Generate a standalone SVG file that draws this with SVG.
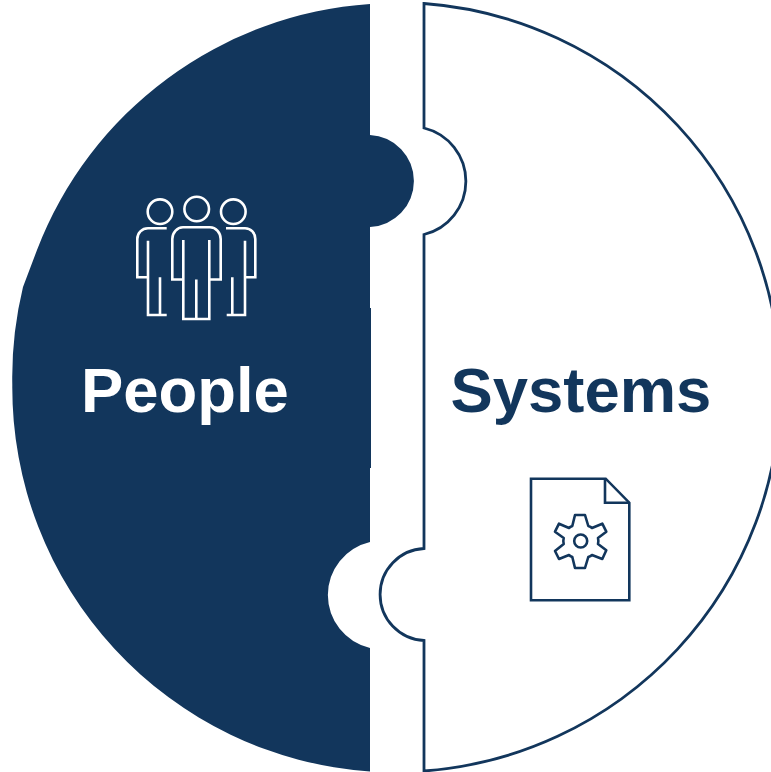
<svg xmlns="http://www.w3.org/2000/svg" width="771" height="772" viewBox="0 0 771 772">
<style>
.lbl{font-family:"Liberation Sans",Arial,sans-serif;font-weight:700;font-size:63.400px}
.ico{fill:none;stroke-width:2.600;stroke-linejoin:miter}
</style>
<rect width="771" height="772" fill="#ffffff"/>
<g id="people">
<path d="M370 4A384.670 384.670 0 0 0 37 250L23 287A384 384 0 0 0 12.300 385A384.670 384.670 0 0 0 370 771.500V648A54.400 54.400 0 0 1 370 542V468H371V308H370V227A46.050 46.050 0 0 0 370 135Z" fill="#12365c"/>
<g class="ico" stroke="#ffffff">
<circle cx="160" cy="211.700" r="12.300"/><circle cx="196.700" cy="209" r="12.300"/><circle cx="233.300" cy="211.700" r="12.300"/>
<path d="M166.700 228.300H148C142 228.300 137.300 233 137.300 239V277.300H148M148 240.700V315H166.700M160 277.300V315"/>
<path d="M226 228.300H245C251 228.300 255.300 233 255.300 239V277.300H245M245 240.700V315H226.700M232.300 277.300V315"/>
<path d="M183.300 279.500H172.300V239C172.300 233 177 227.300 183 227.300H210C216 227.300 220.700 233 220.700 239V279.500H209.300M183.300 240V319H209.300V240M196.300 279.500V319"/>
</g>
<text class="lbl" x="81" y="411.500" fill="#ffffff">People</text>
</g>
<g id="systems">
<path d="M424 3.500A384.800 384.800 0 0 1 424 771V640.500A46.050 46.050 0 0 1 424 548.500V234.500A54.800 54.800 0 0 0 424 128Z" fill="#ffffff" stroke="#12365c" stroke-width="2.800"/>
<g class="ico" stroke="#12365c">
<path d="M531 478.700H605.700L629.300 502.700V600.300H531Z"/>
<path d="M605 478.700V502.700H629.300"/>
<path stroke-linejoin="round" d="M575 515H585L588.300 526C590 526.500 591 527 592 528L602.300 523.700L606.300 531.700L598 538C598.500 540 598.500 542 598 544L606.300 550.300L602.300 559L592 555C591 556 590 556.500 588.300 557L585 568H575L572.300 557C571 556.500 570 556 569 555L559 559L555 551L563.700 544C563.200 542 563.200 540 563.700 538L555 531.700L559 523.700L569 528C570 527 571 526.500 572.300 526Z"/>
<circle cx="580.700" cy="541" r="6.500"/>
</g>
<text class="lbl" x="450.500" y="411.500" fill="#12365c">Systems</text>
</g>
<g id="connectors"/>
</svg>
